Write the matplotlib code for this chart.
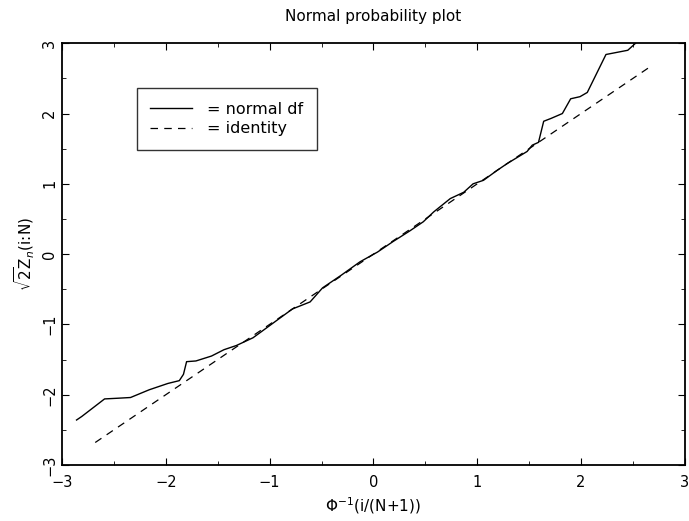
import matplotlib
matplotlib.use("Agg")
import matplotlib.pyplot as plt
from matplotlib.ticker import MultipleLocator

# data
x_quant = [-2.86, -2.81, -2.59, -2.46, -2.34, -2.16, -1.98, -1.87, -1.83, -1.80, -1.71,
           -1.56, -1.44, -1.32, -1.16, -1.03, -0.91, -0.78, -0.61, -0.49, -0.31, -0.13,
           0.04, 0.19, 0.35, 0.48, 0.58, 0.74, 0.87, 0.96, 1.06, 1.19, 1.29, 1.48, 1.53,
           1.59, 1.64, 1.71, 1.82, 1.90, 1.99, 2.06, 2.24, 2.45, 2.54]
y_sample = [-2.36, -2.31, -2.06, -2.05, -2.04, -1.93, -1.84, -1.80, -1.71, -1.53, -1.52,
            -1.45, -1.36, -1.30, -1.19, -1.05, -0.92, -0.78, -0.68, -0.48, -0.30, -0.11,
            0.03, 0.18, 0.33, 0.46, 0.60, 0.79, 0.88, 1.00, 1.05, 1.19, 1.29, 1.46, 1.55,
            1.59, 1.89, 1.93, 2.00, 2.21, 2.24, 2.30, 2.84, 2.90, 3.02]
identity_x = [-2.68, 2.68]
identity_y = [-2.68, 2.68]

fig = plt.figure(figsize=(6.89, 5.21), dpi=100)
ax = fig.add_axes([0.090, 0.1075, 0.904, 0.8095])

ax.plot(x_quant, y_sample, color='black', lw=1.0, label='= normal df')
ax.plot(identity_x, identity_y, color='black', lw=0.9, dashes=(6, 5), label='= identity')

ax.set_xlim(-3, 3)
ax.set_ylim(-3, 3)
ax.xaxis.set_major_locator(MultipleLocator(1))
ax.xaxis.set_minor_locator(MultipleLocator(0.5))
ax.yaxis.set_major_locator(MultipleLocator(1))
ax.yaxis.set_minor_locator(MultipleLocator(0.5))
ax.tick_params(which='both', direction='in', top=True, right=True, labelsize=10.5)
ax.tick_params(which='major', length=5)
ax.tick_params(which='minor', length=3)
ax.tick_params(axis='x', pad=7)
for lab in ax.get_yticklabels():
    lab.set_rotation(90)
    lab.set_va('center')
for s in ax.spines.values():
    s.set_linewidth(1.3)

ax.set_title('Normal probability plot', fontsize=11, pad=16)
ax.set_xlabel(r'$\Phi^{-1}$(i/(N+1))', fontsize=11)
ax.set_ylabel(r'$\sqrt{2}$Z$_n$(i:N)', fontsize=11)

leg = ax.legend(loc='upper left', bbox_to_anchor=(0.12, 0.894), borderaxespad=0,
                fontsize=11.5, frameon=True, fancybox=False, edgecolor='black',
                handlelength=2.6, borderpad=0.85, labelspacing=0.3, handletextpad=0.95)
leg.get_frame().set_linewidth(1.0)

fig.savefig('out.png', dpi=100)
